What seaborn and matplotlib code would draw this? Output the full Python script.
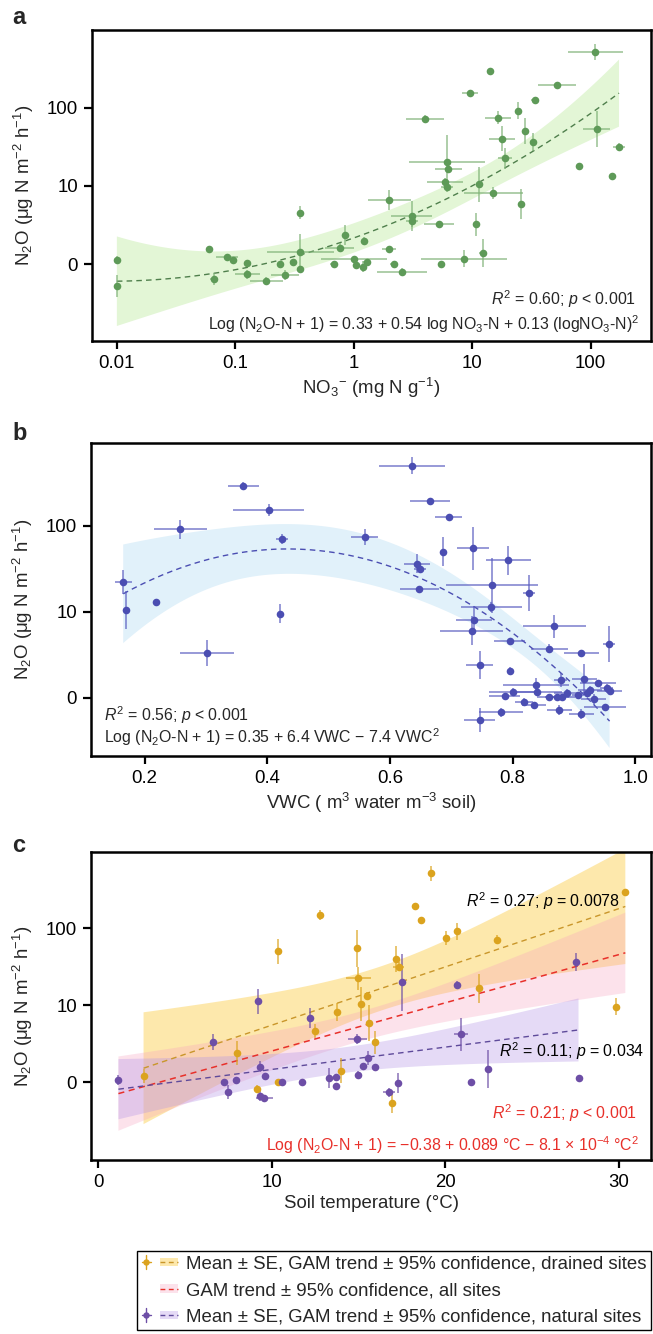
import numpy as np
import pandas as pd
import matplotlib
matplotlib.use("Agg")
import matplotlib.pyplot as plt
import seaborn as sns
from matplotlib.legend_handler import HandlerBase
from matplotlib.lines import Line2D
from matplotlib.patches import Rectangle

# ---------------- data ----------------
# Panel a: log10 NO3- (mg N g-1) vs log10(N2O + 1)
a_log_no3 = [-2.00, -2.00, -1.22, -1.18, -1.07, -1.02, -0.90, -0.90, -0.74, -0.62,
             -0.58, -0.51, -0.45, -0.45, -0.45, -0.17, -0.12, -0.07, 0.00, 0.02,
             0.08, 0.11, 0.09, 0.30, 0.30, 0.34, 0.41, 0.49, 0.49, 0.60,
             0.72, 0.74, 0.79, 0.80, 0.77, 0.79, 0.93, 0.98, 1.03, 1.06,
             1.09, 1.15, 1.18, 1.22, 1.25, 1.28, 1.39, 1.41, 1.45, 1.51,
             1.53, 1.72, 1.90, 2.04, 2.05, 2.18, 2.24]
a_log_n2o = [0.06, -0.28, 0.19, -0.19, 0.09, 0.06, 0.01, -0.13, -0.21, 0.00,
             -0.14, 0.03, 0.66, 0.16, -0.06, 0.00, 0.21, 0.37, 0.07, -0.01,
             -0.03, 0.03, 0.30, 0.82, 0.19, 0.00, -0.10, 0.62, 0.55, 1.85,
             0.51, 0.00, 1.30, 1.21, 1.05, 0.98, 0.07, 2.18, 0.51, 1.02,
             0.14, 2.47, 0.91, 1.87, 1.60, 1.35, 1.96, 0.77, 1.70, 1.56,
             2.10, 2.29, 1.25, 2.71, 1.73, 1.12, 1.50]
a_xerr = [0.02, 0.02, 0.02, 0.03, 0.09, 0.02, 0.03, 0.105, 0.14, 0.03,
          0.12, 0.03, 0.02, 0.28, 0.02, 0.03, 0.12, 0.03, 0.28, 0.03,
          0.03, 0.03, 0.03, 0.18, 0.06, 0.03, 0.21, 0.175, 0.05, 0.16,
          0.13, 0.03, 0.32, 0.11, 0.15, 0.05, 0.36, 0.07, 0.02, 0.03,
          0.03, 0.02, 0.25, 0.11, 0.11, 0.06, 0.02, 0.02, 0.02, 0.02,
          0.03, 0.16, 0.02, 0.23, 0.11, 0.02, 0.05]
a_yerr = [0.05, 0.14, 0.03, 0.08, 0.03, 0.03, 0.04, 0.06, 0.05, 0.03,
          0.06, 0.03, 0.085, 0.23, 0.04, 0.02, 0.06, 0.13, 0.04, 0.05,
          0.07, 0.04, 0.05, 0.13, 0.04, 0.02, 0.05, 0.19, 0.08, 0.05,
          0.04, 0.02, 0.35, 0.05, 0.05, 0.06, 0.11, 0.04, 0.15, 0.22,
          0.18, 0.03, 0.08, 0.08, 0.16, 0.13, 0.11, 0.19, 0.17, 0.11,
          0.03, 0.04, 0.03, 0.10, 0.23, 0.03, 0.05]

# Panel b: VWC vs log10(N2O + 1)
b_vwc = [0.165, 0.169, 0.219, 0.258, 0.302, 0.361, 0.402, 0.424, 0.420, 0.559,
         0.636, 0.665, 0.696, 0.644, 0.649, 0.648, 0.687, 0.735, 0.793, 0.767,
         0.827, 0.765, 0.737, 0.733, 0.795, 0.868, 0.860, 0.912, 0.957, 0.746,
         0.795, 0.878, 0.838, 0.840, 0.801, 0.787, 0.860, 0.872, 0.881, 0.888,
         0.917, 0.939, 0.907, 0.921, 0.926, 0.953, 0.958, 0.818, 0.835, 0.932,
         0.876, 0.950, 0.912, 0.781, 0.746]
b_log_n2o = [1.35, 1.02, 1.12, 1.96, 0.52, 2.47, 2.18, 1.85, 0.98, 1.87,
             2.70, 2.29, 2.10, 1.56, 1.50, 1.26, 1.70, 1.74, 1.60, 1.31,
             1.22, 1.06, 0.91, 0.78, 0.66, 0.83, 0.57, 0.52, 0.63, 0.38,
             0.31, 0.21, 0.15, 0.07, 0.07, 0.02, 0.01, 0.01, 0.01, 0.06,
             0.22, 0.17, 0.03, 0.05, 0.09, 0.11, 0.08, -0.05, -0.09, -0.02,
             -0.14, -0.11, -0.19, -0.17, -0.26]
b_xerr = [0.014, 0.003, 0.003, 0.043, 0.044, 0.025, 0.058, 0.010, 0.005, 0.022,
          0.054, 0.033, 0.022, 0.022, 0.010, 0.032, 0.005, 0.026, 0.037, 0.075,
          0.010, 0.050, 0.030, 0.052, 0.025, 0.052, 0.030, 0.028, 0.010, 0.022,
          0.003, 0.010, 0.054, 0.040, 0.040, 0.025, 0.020, 0.020, 0.020, 0.020,
          0.020, 0.030, 0.010, 0.010, 0.020, 0.010, 0.020, 0.015, 0.020, 0.020,
          0.020, 0.034, 0.020, 0.036, 0.025]
b_yerr = [0.14, 0.22, 0.02, 0.11, 0.15, 0.04, 0.07, 0.06, 0.11, 0.09,
          0.10, 0.04, 0.03, 0.11, 0.05, 0.04, 0.17, 0.25, 0.17, 0.32,
          0.21, 0.06, 0.16, 0.17, 0.04, 0.135, 0.05, 0.04, 0.21, 0.16,
          0.05, 0.08, 0.08, 0.05, 0.04, 0.04, 0.03, 0.03, 0.03, 0.04,
          0.17, 0.04, 0.04, 0.04, 0.05, 0.05, 0.04, 0.05, 0.04, 0.06,
          0.06, 0.04, 0.06, 0.05, 0.14]

# Panel c: soil temperature vs log10(N2O + 1), drained and natural sites
c_dr_temp = [2.6, 7.96, 9.14, 10.36, 10.36, 12.49, 12.78, 13.74, 13.96, 14.92,
             14.99, 15.11, 15.47, 15.61, 15.92, 16.95, 17.15, 17.31, 18.23, 18.61,
             19.16, 20.05, 20.67, 21.97, 22.97, 29.86, 30.38]
c_dr_n2o = [0.08, 0.38, -0.09, 1.70, 0.00, 0.66, 2.17, 0.91, 0.15, 1.74,
            1.35, 1.02, 1.12, 0.77, 0.52, -0.27, 1.60, 1.50, 2.28, 2.10,
            2.71, 1.87, 1.96, 1.22, 1.85, 0.98, 2.47]
c_dr_xerr = [0.1, 0.1, 0.1, 0.1, 0.2, 0.1, 0.1, 0.1, 0.1, 0.1,
             0.72, 0.1, 0.1, 0.1, 0.1, 0.1, 0.1, 0.3, 0.1, 0.1,
             0.1, 0.1, 0.1, 0.1, 0.1, 0.1, 0.1]
c_dr_yerr = [0.09, 0.16, 0.05, 0.16, 0.04, 0.09, 0.06, 0.12, 0.16, 0.24,
             0.15, 0.22, 0.05, 0.23, 0.15, 0.13, 0.17, 0.06, 0.05, 0.04,
             0.10, 0.09, 0.11, 0.19, 0.06, 0.11, 0.04]

c_nat_temp = [1.15, 6.62, 7.22, 7.46, 7.94, 9.18, 9.30, 9.33, 9.57, 9.62,
              10.6, 11.73, 12.21, 13.29, 13.67, 13.69, 14.92, 14.99, 15.25, 15.54,
              15.95, 16.76, 17.27, 17.53, 20.70, 20.91, 21.46, 22.47, 27.53, 27.68]
c_nat_n2o = [0.03, 0.52, 0.00, -0.13, 0.03, 1.05, 0.20, -0.18, -0.21, 0.08,
             0.00, 0.00, 0.83, 0.05, 0.07, -0.05, 0.56, 0.10, 0.21, 0.31,
             0.20, -0.13, -0.01, 1.30, 1.26, 0.62, 0.00, 0.17, 1.56, 0.06]
c_nat_xerr = [0.1, 0.1, 0.1, 0.1, 0.1, 0.1, 0.1, 0.1, 0.48, 0.1,
              0.1, 0.1, 0.1, 0.1, 0.1, 0.1, 0.54, 0.1, 0.1, 0.1,
              0.1, 0.36, 0.1, 0.1, 0.1, 0.42, 0.1, 0.1, 0.1, 0.1]
c_nat_yerr = [0.07, 0.10, 0.03, 0.09, 0.04, 0.16, 0.07, 0.06, 0.05, 0.04,
              0.03, 0.04, 0.13, 0.13, 0.04, 0.04, 0.06, 0.04, 0.04, 0.09,
              0.04, 0.06, 0.13, 0.37, 0.05, 0.21, 0.03, 0.25, 0.12, 0.03]

y_ticks = [0, 1, 2]
y_ticklabels = ["0", "10", "100"]
a_xticks = [-2, -1, 0, 1, 2]
a_xticklabels = ["0.01", "0.1", "1", "10", "100"]
b_xticks = [0.2, 0.4, 0.6, 0.8, 1.0]
b_xticklabels = ["0.2", "0.4", "0.6", "0.8", "1.0"]
c_xticks = [0, 10, 20, 30]
c_xticklabels = ["0", "10", "20", "30"]

legend_labels = ["Mean \u00b1 SE, GAM trend \u00b1 95% confidence, drained sites",
                 "GAM trend \u00b1 95% confidence, all sites",
                 "Mean \u00b1 SE, GAM trend \u00b1 95% confidence, natural sites"]

# ---------------- style ----------------
sns.set_theme(style="ticks")
plt.rcParams["font.family"] = ["Liberation Sans", "DejaVu Sans"]
plt.rcParams["mathtext.fontset"] = "custom"
plt.rcParams["mathtext.rm"] = "Liberation Sans"
plt.rcParams["mathtext.it"] = "Liberation Sans:italic"
plt.rcParams["mathtext.bf"] = "Liberation Sans:bold"
plt.rcParams["axes.unicode_minus"] = True

FS = 13.4
ANN = 11.4

GREEN = "#5e9a58"; GREEN_LINE = "#4f7f4c"; GREEN_BAND = "#e3f6d6"
BLUE = "#4b4eb2"; BLUE_BAND = "#e1f1fa"
GOLD = "#dba31e"; GOLD_LINE = "#c9962a"; GOLD_BAND = "#fbc631"
PURPLE = "#6d4ea6"; PURPLE_LINE = "#5e4a9a"; PURPLE_BAND = "#b596e6"
RED = "#e8302a"; PINK_BAND = "#f7a1bf"

W, H = 653, 1334
fig = plt.figure(figsize=(W / 100, H / 100), dpi=100)


def axes_px(left, top, right, bottom):
    return fig.add_axes([left / W, 1 - bottom / H, (right - left) / W, (bottom - top) / H])


def style_axes(ax, xticks, xlabels, xlim, ylim):
    ax.set_xlim(*xlim)
    ax.set_ylim(*ylim)
    ax.set_xticks(xticks)
    ax.set_xticklabels(xlabels)
    ax.set_yticks(y_ticks)
    ax.set_yticklabels(y_ticklabels)
    for s in ax.spines.values():
        s.set_visible(True)
        s.set_color("black")
        s.set_linewidth(1.8)
    ax.tick_params(direction="out", length=6, width=1.6, colors="black",
                   labelsize=FS, pad=4)
    ax.set_xlabel(ax.get_xlabel())
    ax.set_ylabel(r"N$_2$O ($\mathregular{\mu}$g N m$^{-2}$ h$^{-1}$)", fontsize=FS, labelpad=8)


def points(ax, x, y, xerr, yerr, color, ecolor):
    ax.errorbar(x, y, xerr=xerr, yerr=yerr, fmt="none", ecolor=ecolor,
                elinewidth=1.1, capsize=0, alpha=0.8, zorder=4)
    df = pd.DataFrame({"x": x, "y": y})
    sns.scatterplot(data=df, x="x", y="y", ax=ax, color=color, s=30,
                    linewidth=0, zorder=5, legend=False)


def t975(df):
    z = 1.959964
    return z + (z**3 + z) / (4 * df) + (5 * z**5 + 16 * z**3 + 3 * z) / (96 * df**2)


def trend(ax, x, y, line_color, band_color, band_alpha, order=2, lw=1.0):
    """Least-squares polynomial trend with analytic 95% confidence band."""
    x = np.asarray(x, float)
    y = np.asarray(y, float)
    X = np.vander(x, order + 1)
    beta, *_ = np.linalg.lstsq(X, y, rcond=None)
    resid = y - X @ beta
    dof = len(x) - (order + 1)
    s2 = resid @ resid / dof
    cov = s2 * np.linalg.inv(X.T @ X)
    grid = np.linspace(x.min(), x.max(), 200)
    G = np.vander(grid, order + 1)
    fit = G @ beta
    se = np.sqrt(np.einsum("ij,jk,ik->i", G, cov, G))
    half = t975(dof) * se
    ax.fill_between(grid, fit - half, fit + half, facecolor=band_color,
                    alpha=band_alpha, edgecolor="none", zorder=1)
    ax.plot(grid, fit, color=line_color, lw=lw, ls=(0, (4, 3)), zorder=3)


# ---------------- panel a ----------------
ax_a = axes_px(92, 30, 651, 341)
trend(ax_a, a_log_no3, a_log_n2o, GREEN_LINE, GREEN_BAND, 1.0)
points(ax_a, a_log_no3, a_log_n2o, a_xerr, a_yerr, GREEN, "#7fb277")
style_axes(ax_a, a_xticks, a_xticklabels, (-2.21, 2.51), (-0.98, 2.99))
ax_a.set_xlabel(r"NO$_3$$^{-}$ (mg N g$^{-1}$)", fontsize=FS, labelpad=3)
ax_a.text(0.973, 0.135, r"$\mathit{R}^2$ = 0.60; $\mathit{p}$ < 0.001", transform=ax_a.transAxes,
          ha="right", va="center", fontsize=ANN)
ax_a.text(0.979, 0.055, r"Log (N$_2$O-N + 1) = 0.33 + 0.54 log NO$_3$-N + 0.13 (logNO$_3$-N)$^2$",
          transform=ax_a.transAxes, ha="right", va="center", fontsize=ANN)

# ---------------- panel b ----------------
ax_b = axes_px(91, 443, 651, 756)
trend(ax_b, b_vwc, b_log_n2o, BLUE, BLUE_BAND, 1.0)
points(ax_b, b_vwc, b_log_n2o, b_xerr, b_yerr, BLUE, "#5a5dc0")
style_axes(ax_b, b_xticks, b_xticklabels, (0.1125, 1.0255), (-0.678, 2.965))
ax_b.set_xlabel(r"VWC ( m$^3$ water m$^{-3}$ soil)", fontsize=FS, labelpad=3)
ax_b.text(0.023, 0.131, r"$\mathit{R}^2$ = 0.56; $\mathit{p}$ < 0.001", transform=ax_b.transAxes,
          ha="left", va="center", fontsize=ANN)
ax_b.text(0.023, 0.061, r"Log (N$_2$O-N + 1) = 0.35 + 6.4 VWC $-$ 7.4 VWC$^2$",
          transform=ax_b.transAxes, ha="left", va="center", fontsize=ANN)

# ---------------- panel c ----------------
ax_c = axes_px(91, 852, 651, 1160)
c_all_temp = c_dr_temp + c_nat_temp
c_all_n2o = c_dr_n2o + c_nat_n2o
trend(ax_c, c_dr_temp, c_dr_n2o, GOLD_LINE, GOLD_BAND, 0.4, order=1)
trend(ax_c, c_all_temp, c_all_n2o, RED, PINK_BAND, 0.3, order=1, lw=1.1)
trend(ax_c, c_nat_temp, c_nat_n2o, PURPLE_LINE, PURPLE_BAND, 0.35, order=1)
points(ax_c, c_dr_temp, c_dr_n2o, c_dr_xerr, c_dr_yerr, GOLD, GOLD)
points(ax_c, c_nat_temp, c_nat_n2o, c_nat_xerr, c_nat_yerr, PURPLE, PURPLE)
style_axes(ax_c, c_xticks, c_xticklabels, (-0.43, 31.86), (-1.009, 2.987))
ax_c.set_xlabel("Soil temperature (\u00b0C)", fontsize=FS, labelpad=3)
ax_c.text(0.945, 0.841, r"$\mathit{R}^2$ = 0.27; $\mathit{p}$ = 0.0078", transform=ax_c.transAxes,
          ha="right", va="center", fontsize=ANN, color="black", zorder=6)
ax_c.text(0.9875, 0.354, r"$\mathit{R}^2$ = 0.11; $\mathit{p}$ = 0.034", transform=ax_c.transAxes,
          ha="right", va="center", fontsize=ANN, color="black", zorder=6)
ax_c.text(0.975, 0.153, r"$\mathit{R}^2$ = 0.21; $\mathit{p}$ < 0.001", transform=ax_c.transAxes,
          ha="right", va="center", fontsize=ANN, color=RED, zorder=6)
ax_c.text(0.979, 0.049,
          r"Log (N$_2$O-N + 1) = $-$0.38 + 0.089 $\degree$C $-$ 8.1 $\times$ 10$^{-4}$ $\degree$C$^2$",
          transform=ax_c.transAxes, ha="right", va="center", fontsize=ANN, color=RED, zorder=6)

# panel letters
for letter, ypx in [("a", 17), ("b", 434), ("c", 845)]:
    fig.text(12 / W, 1 - ypx / H, letter, fontsize=17, fontweight="bold", ha="left", va="center")


# ---------------- legend ----------------
class TrendHandler(HandlerBase):
    def __init__(self, mcolor, bcolor, balpha, lcolor):
        super().__init__()
        self.mcolor, self.bcolor, self.balpha, self.lcolor = mcolor, bcolor, balpha, lcolor

    def create_artists(self, legend, orig_handle, xdescent, ydescent, width, height, fontsize, trans):
        x0 = -xdescent
        cy = -ydescent + height / 2
        arts = []
        if self.mcolor is not None:
            mx = x0 + 0.12 * width
            arts.append(Line2D([x0, x0 + 0.26 * width], [cy, cy], color=self.mcolor, lw=1.0))
            arts.append(Line2D([mx, mx], [cy - 0.55 * height, cy + 0.55 * height], color=self.mcolor, lw=1.0))
            arts.append(Line2D([mx], [cy], marker="o", ms=4.6, color=self.mcolor, ls="none", mew=0))
        arts.append(Rectangle((x0 + 0.5 * width, cy - 0.32 * height), 0.48 * width, 0.64 * height,
                              facecolor=self.bcolor, alpha=self.balpha, edgecolor="none"))
        arts.append(Line2D([x0 + 0.5 * width, x0 + 0.98 * width], [cy, cy], color=self.lcolor,
                           lw=1.0, ls=(0, (3.5, 2.5))))
        for a in arts:
            a.set_transform(trans)
        return arts


h_dr = Line2D([], [])
h_all = Line2D([], [])
h_nat = Line2D([], [])
leg = fig.legend([h_dr, h_all, h_nat], legend_labels, loc="upper left",
                 bbox_to_anchor=(137 / W, 1 - 1251 / H), bbox_transform=fig.transFigure,
                 borderaxespad=0, borderpad=0.25, handlelength=2.0, handletextpad=0.4,
                 labelspacing=0.5, fontsize=FS, frameon=True, fancybox=False,
                 handler_map={h_dr: TrendHandler(GOLD, GOLD_BAND, 0.4, GOLD_LINE),
                              h_all: TrendHandler(None, PINK_BAND, 0.3, RED),
                              h_nat: TrendHandler(PURPLE, PURPLE_BAND, 0.35, PURPLE_LINE)})
leg.get_frame().set_edgecolor("black")
leg.get_frame().set_linewidth(1.0)
leg.get_frame().set_alpha(1)

fig.savefig("out.png", dpi=100)
